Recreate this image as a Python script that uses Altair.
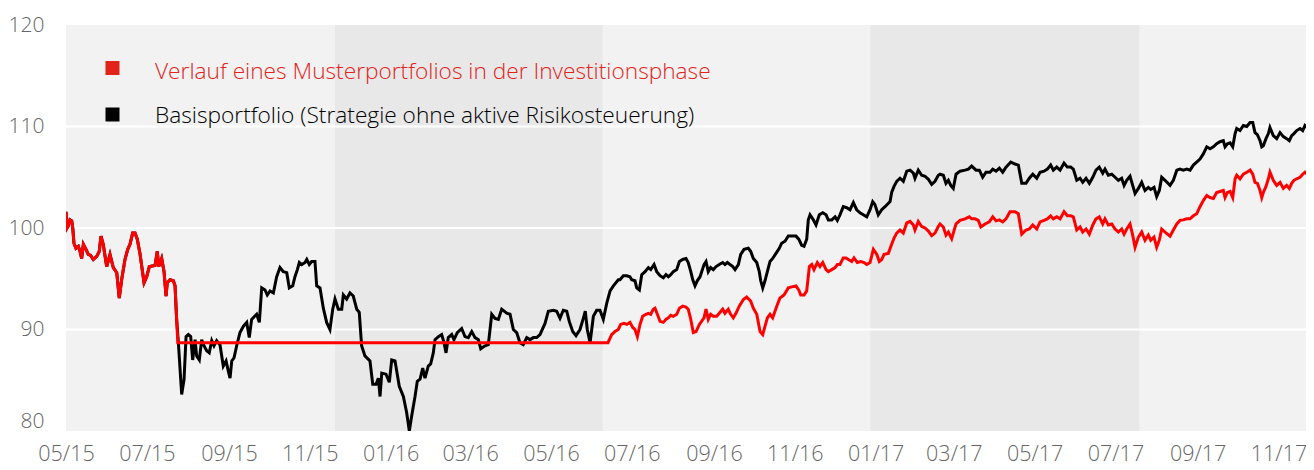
import altair as alt
import pandas as pd

START = "2015-05-01"
DAYS_SHOWN = 935.8  # visible span of the time axis in days

# (days since 2015-05-01, index value) – identical for both portfolios until the drop
common = [(0, 101.6), (0.8, 100.0), (1.7, 100.2), (3.0, 100.8), (4.3, 100.7), (5.1, 100.0), (6.0, 98.5), (7.5, 98.0),
          (9.3, 98.2), (10.6, 97.7), (11.8, 97.0), (13.1, 98.4), (15.1, 97.9), (16.8, 97.4), (18.6, 97.3), (20.6, 96.9),
          (23.2, 97.2), (25.1, 97.7), (26.4, 99.2), (28.1, 98.4), (30.7, 96.2), (33.2, 97.4), (35.7, 96.1), (38.3, 95.6),
          (40.2, 93.1), (42.0, 94.9), (44.5, 96.9), (46.6, 97.9), (48.3, 98.4), (50.3, 99.5), (52.1, 99.5), (53.8, 98.9),
          (55.8, 97.5), (58.9, 94.6), (60.9, 95.2), (62.9, 96.2), (67.2, 96.3), (68.9, 97.7), (70.0, 96.2), (72.2, 97.0),
          (74.0, 95.7), (75.5, 93.3), (76.4, 94.6), (78.5, 94.9), (81.0, 94.8), (82.3, 94.3), (83.5, 91.0)]

black_tail = [(84.8, 88.7), (87.3, 83.6), (89.1, 85.1), (90.6, 89.3), (92.3, 89.5), (94.1, 89.3), (95.6, 87.0), (97.4, 89.0),
    (98.6, 87.4), (100.6, 87.0), (102.4, 89.0), (104.1, 88.4), (106.2, 87.9), (108.1, 87.7), (110.0, 88.9), (111.7, 88.4),
    (113.7, 88.9), (116.2, 88.5), (118.7, 86.4), (120.8, 86.9), (122.5, 85.9), (123.8, 85.2), (125.1, 86.9), (126.8, 87.2),
    (128.8, 88.4), (131.3, 89.7), (133.8, 90.3), (136.4, 90.7), (138.3, 89.2), (140.1, 91.0), (143.9, 91.5), (145.9, 90.7),
    (147.7, 94.1), (150.2, 93.9), (151.9, 93.4), (154.0, 93.8), (156.5, 93.6), (159.0, 95.2), (161.5, 96.1), (164.0, 95.7),
    (166.6, 95.6), (168.5, 94.1), (171.1, 94.3), (172.8, 95.2), (174.6, 95.9), (176.1, 96.6), (177.9, 96.4), (180.4, 96.6),
    (181.7, 96.9), (183.6, 96.4), (185.4, 96.7), (187.9, 96.7), (189.2, 94.3), (191.7, 94.1), (194.2, 92.1), (196.7, 90.7),
    (199.2, 90.0), (201.3, 92.0), (203.0, 93.0), (205.5, 92.0), (208.1, 92.0), (209.3, 93.4), (211.8, 93.0), (214.3, 93.6),
    (216.8, 93.3), (219.4, 92.0), (221.3, 91.7), (223.1, 88.4), (225.6, 87.4), (229.4, 86.9), (231.5, 84.6), (234.0, 84.6),
    (235.7, 85.2), (237.0, 83.4), (238.3, 85.7), (241.5, 85.6), (244.0, 84.8), (245.8, 87.0), (248.3, 86.9), (251.5, 84.4),
    (254.6, 83.4), (257.1, 81.8), (259.1, 80.0), (260.9, 81.5), (263.4, 83.4), (265.1, 84.9), (267.2, 85.1), (269.2, 86.2),
    (270.9, 85.2), (273.4, 86.4), (275.2, 86.6), (277.2, 87.7), (278.5, 89.0), (281.0, 89.3), (283.5, 89.5), (285.3, 88.7),
    (286.8, 87.7), (288.5, 89.2), (291.1, 89.5), (292.8, 89.0), (295.3, 89.7), (298.6, 90.1), (301.1, 89.3), (303.6, 89.2),
    (306.2, 89.8), (308.7, 89.2), (311.2, 89.0), (313.0, 88.1), (316.2, 88.4), (318.7, 88.5), (321.3, 91.5), (323.8, 91.1),
    (326.3, 91.0), (328.8, 92.0), (332.6, 91.6), (335.1, 91.5), (337.6, 90.0), (340.1, 89.7), (342.6, 88.7), (345.1, 88.5),
    (347.7, 89.2), (350.2, 89.0), (352.7, 89.2), (355.2, 89.2), (357.7, 89.5), (361.5, 90.6), (364.0, 91.8), (367.8, 91.9),
    (370.3, 91.8), (372.8, 91.1), (375.3, 91.9), (377.9, 91.8), (379.8, 90.8), (382.4, 89.8), (384.9, 89.4), (387.9, 90.0),
    (390.4, 91.1), (391.9, 91.8), (393.4, 90.0), (395.5, 88.7), (398.0, 91.3), (400.5, 91.9), (403.0, 91.9), (405.5, 91.0),
    (408.1, 92.6), (410.6, 93.8), (413.1, 94.3), (416.8, 94.9), (418.1, 94.9), (420.6, 95.3), (423.2, 95.3), (425.6, 95.2),
    (426.9, 94.9), (429.4, 94.8), (430.7, 94.1), (432.7, 93.9), (434.5, 95.4), (437.0, 95.7), (439.5, 96.1), (441.3, 95.9),
    (443.8, 96.4), (445.8, 95.7), (448.3, 95.3), (450.8, 95.1), (452.8, 95.4), (454.6, 95.2), (456.4, 95.4), (458.3, 95.7),
    (460.9, 95.9), (462.9, 96.7), (465.4, 96.9), (467.9, 97.0), (469.6, 96.6), (471.5, 95.7), (473.0, 94.9), (474.7, 94.3),
    (476.4, 94.8), (478.5, 95.2), (481.5, 96.4), (483.0, 96.7), (484.7, 95.7), (486.5, 96.1), (488.5, 95.9), (490.6, 96.2),
    (493.0, 96.4), (495.6, 96.6), (497.3, 96.4), (499.1, 96.6), (501.1, 96.4), (503.2, 96.2), (504.9, 95.9), (507.4, 96.4),
    (509.2, 97.4), (511.7, 97.9), (514.9, 98.0), (516.7, 97.7), (518.7, 97.0), (521.3, 96.6), (523.2, 95.7), (524.3, 94.8),
    (525.8, 94.1), (527.5, 94.8), (529.3, 95.7), (531.3, 96.7), (533.3, 97.0), (535.8, 97.5), (538.3, 98.0), (540.1, 98.5),
    (542.6, 98.7), (545.1, 99.2), (547.7, 99.2), (550.9, 99.2), (553.0, 98.9), (555.2, 98.3), (557.0, 98.2), (559.0, 98.9),
    (560.2, 100.8), (561.5, 101.3), (564.0, 100.8), (566.0, 100.3), (568.5, 101.3), (571.1, 101.5), (573.6, 101.3),
    (575.3, 100.8), (577.9, 100.8), (580.4, 101.1), (582.1, 100.75), (584.1, 101.3), (586.6, 102.1), (589.2, 102.0),
    (591.7, 101.8), (594.2, 102.5), (596.7, 101.8), (599.2, 101.5), (601.7, 101.3), (604.3, 101.1), (606.8, 101.8),
    (608.8, 102.6), (610.5, 102.3), (613.0, 101.3), (615.6, 101.8), (618.1, 102.1), (621.9, 102.6), (623.1, 103.5),
    (624.9, 104.1), (626.9, 104.6), (629.4, 104.9), (631.9, 104.6), (634.5, 105.6), (637.0, 105.7), (639.5, 105.4),
    (640.7, 104.9), (643.2, 105.7), (645.8, 105.2), (648.3, 105.1), (650.8, 104.8), (653.3, 104.3), (655.8, 104.6),
    (658.3, 105.2), (659.6, 105.3), (662.1, 105.2), (664.1, 104.4), (665.9, 104.7), (667.7, 104.2), (669.6, 103.9),
    (671.7, 105.3), (674.7, 105.6), (678.5, 105.7), (681.0, 105.8), (683.5, 106.1), (686.8, 105.7), (689.3, 105.7),
    (691.8, 105.0), (694.3, 105.5), (697.3, 105.5), (699.4, 105.8), (701.9, 105.6), (704.4, 105.9), (706.9, 105.5),
    (709.4, 106.0), (713.0, 106.5), (716.2, 106.3), (718.7, 106.2), (721.3, 104.4), (724.5, 104.4), (727.0, 104.9),
    (729.6, 105.3), (732.6, 104.9), (735.1, 105.5), (738.1, 105.6), (740.6, 105.8), (743.1, 106.2), (745.1, 105.7),
    (747.7, 106.0), (750.2, 105.7), (753.2, 106.4), (755.7, 106.0), (758.2, 106.0), (760.2, 105.8), (762.8, 104.7),
    (765.3, 104.9), (767.3, 104.5), (769.8, 104.9), (772.3, 104.4), (774.9, 105.0), (777.3, 105.7), (779.8, 106.0),
    (782.4, 105.4), (784.1, 105.8), (786.6, 105.2), (789.2, 105.3), (791.7, 105.0), (794.2, 104.7), (796.7, 104.9),
    (798.5, 104.2), (800.5, 104.7), (803.0, 105.1), (805.0, 104.2), (806.8, 103.4), (809.3, 103.9), (811.8, 104.5),
    (814.3, 103.7), (816.8, 104.0), (818.6, 103.8), (821.1, 104.0), (823.1, 103.1), (825.1, 103.7), (826.9, 105.0),
    (829.4, 104.7), (833.2, 104.2), (835.7, 104.7), (838.3, 105.7), (840.7, 105.8), (843.2, 105.7), (845.8, 105.8),
    (848.3, 105.7), (850.8, 106.2), (853.3, 106.5), (855.8, 106.8), (858.3, 107.3), (860.9, 108.0), (863.4, 107.8),
    (865.9, 108.0), (868.4, 108.3), (870.9, 108.5), (873.4, 108.6), (874.7, 108.0), (876.5, 108.3), (878.5, 108.4),
    (880.5, 108.0), (882.3, 109.3), (883.5, 109.8), (886.0, 109.6), (888.5, 110.1), (891.1, 110.0), (893.6, 110.4),
    (895.6, 110.4), (897.3, 109.4), (899.1, 109.2), (901.1, 108.6), (902.4, 108.0), (903.6, 108.1), (905.6, 108.8),
    (907.4, 109.3), (908.6, 109.9), (911.1, 109.1), (913.7, 108.8), (916.2, 109.4), (918.7, 109.0), (921.2, 108.8),
    (923.2, 108.6), (925.0, 109.1), (926.7, 109.3), (928.8, 109.6), (931.3, 109.8), (933.3, 109.6), (935.0, 110.1),
    (937.5, 109.8), (939.4, 110.2), (941.9, 110.2)]

red_tail = [(84.4, 88.7), (409.0, 88.7), (411.8, 89.5), (414.3, 89.8), (416.8, 90.0), (418.6, 90.5), (421.1, 90.6),
    (423.2, 90.5), (425.6, 90.7), (427.7, 90.2), (429.4, 90.0), (431.2, 89.3), (433.2, 90.5), (435.2, 91.3), (437.7, 91.5),
    (439.5, 91.6), (441.3, 91.5), (443.2, 92.0), (444.5, 92.1), (446.3, 91.5), (448.3, 90.8), (450.8, 90.7), (452.8, 91.0),
    (454.6, 91.15), (456.4, 91.4), (458.3, 91.3), (460.9, 91.5), (462.9, 92.1), (465.4, 92.3), (467.9, 92.2), (469.6, 92.0),
    (471.5, 91.0), (473.4, 89.7), (475.5, 89.8), (478.0, 90.5), (481.5, 91.15), (483.0, 92.0), (484.7, 91.0), (486.5, 91.5),
    (488.5, 91.3), (491.1, 91.3), (493.0, 91.6), (495.6, 92.0), (497.3, 91.6), (499.8, 92.0), (501.6, 91.5), (503.6, 91.15),
    (505.6, 91.6), (508.1, 92.3), (511.2, 92.95), (513.7, 93.2), (516.7, 92.8), (518.7, 92.1), (521.3, 91.5), (523.8, 89.8),
    (525.8, 89.5), (527.5, 90.3), (529.3, 91.15), (531.3, 91.5), (533.3, 91.15), (536.4, 92.3), (538.8, 93.1), (541.9, 93.4),
    (545.1, 94.1), (547.7, 94.2), (550.9, 94.3), (553.0, 93.9), (554.5, 93.4), (557.0, 93.4), (559.0, 93.8), (561.0, 96.2),
    (562.8, 96.4), (564.5, 95.9), (567.0, 96.6), (569.0, 96.2), (571.1, 96.6), (573.6, 95.9), (575.3, 95.7), (577.9, 95.9),
    (580.4, 96.1), (582.1, 96.4), (584.1, 96.4), (586.6, 97.05), (588.7, 97.05), (590.4, 96.9), (593.0, 96.7), (594.7, 97.05),
    (597.2, 96.6), (599.8, 96.7), (602.3, 96.6), (604.3, 96.4), (606.8, 96.6), (609.3, 97.9), (611.9, 97.4), (613.8, 96.7),
    (615.6, 96.9), (617.4, 97.4), (620.6, 97.5), (623.1, 98.4), (624.9, 99.0), (626.9, 99.5), (629.4, 99.8), (631.9, 99.5),
    (634.5, 100.5), (637.0, 100.65), (639.5, 100.3), (640.7, 99.8), (643.2, 100.65), (645.8, 100.15), (648.3, 100.0),
    (650.8, 99.7), (653.3, 99.25), (655.8, 99.5), (658.3, 100.15), (659.6, 100.4), (662.1, 100.1), (664.1, 99.3),
    (665.9, 99.6), (668.4, 98.95), (671.7, 100.4), (674.7, 100.75), (678.5, 100.9), (681.7, 101.1), (683.5, 100.9),
    (686.0, 100.9), (688.5, 100.75), (690.4, 100.1), (693.6, 100.4), (696.8, 100.6), (699.4, 101.1), (701.9, 100.7),
    (704.4, 100.8), (706.9, 100.6), (709.4, 100.9), (712.4, 101.6), (716.2, 101.6), (718.7, 101.4), (721.3, 99.4),
    (724.5, 99.8), (727.0, 99.9), (729.6, 100.3), (732.6, 99.9), (735.1, 100.6), (738.1, 100.75), (740.6, 100.9),
    (743.1, 101.2), (745.1, 100.9), (747.7, 101.1), (750.2, 100.9), (753.2, 101.6), (755.7, 101.2), (758.2, 101.2),
    (760.2, 101.1), (762.8, 99.8), (765.3, 100.1), (767.3, 99.6), (769.8, 99.9), (772.3, 99.4), (774.9, 100.3),
    (777.3, 100.9), (779.8, 101.1), (782.4, 100.4), (784.1, 100.9), (786.6, 100.3), (789.2, 100.4), (791.7, 99.9),
    (794.2, 99.6), (796.7, 99.9), (798.5, 99.4), (800.5, 99.9), (803.0, 100.4), (805.0, 99.3), (806.8, 98.1),
    (809.3, 99.1), (811.8, 99.6), (814.3, 98.8), (816.8, 99.3), (818.6, 98.8), (821.1, 99.1), (823.1, 98.1), (825.1, 98.8),
    (826.9, 99.9), (829.4, 99.6), (833.2, 99.2), (835.7, 99.8), (838.3, 100.4), (840.7, 100.75), (843.2, 100.8),
    (845.8, 100.9), (848.3, 100.9), (850.8, 101.2), (853.3, 101.4), (855.8, 102.1), (858.3, 102.7), (860.9, 103.2),
    (863.4, 103.0), (865.9, 102.9), (868.4, 103.5), (870.9, 103.6), (873.4, 103.7), (874.7, 103.0), (876.5, 103.5),
    (878.5, 103.6), (880.5, 103.0), (882.3, 104.85), (883.5, 105.2), (886.0, 104.85), (888.5, 105.3), (891.1, 105.5),
    (893.6, 105.7), (895.6, 105.3), (897.3, 104.5), (899.1, 104.4), (901.1, 103.7), (902.4, 103.0), (903.6, 103.5),
    (905.6, 104.1), (907.4, 104.85), (908.6, 105.5), (911.1, 104.7), (913.7, 104.2), (916.2, 104.5), (918.7, 103.9),
    (921.2, 104.2), (923.2, 103.9), (925.0, 104.4), (926.7, 104.7), (928.8, 104.85), (931.3, 105.0), (933.3, 105.3),
    (935.0, 105.5), (937.5, 105.2), (939.4, 105.5), (941.9, 105.4)]

band_starts = ["2015-11-20", "2016-12-28"]
band_ends = ["2016-06-09", "2017-07-19"]
tick_dates = ["2015-05-01", "2015-07-01", "2015-09-01", "2015-11-01", "2016-01-01", "2016-03-01", "2016-05-01",
              "2016-07-01", "2016-09-01", "2016-11-01", "2017-01-01", "2017-03-01", "2017-05-01", "2017-07-01",
              "2017-09-01", "2017-11-01"]
y_ticks = [80, 90, 100, 110, 120]
grid_values = [90, 100, 110]
legend_labels = ["Verlauf eines Musterportfolios in der Investitionsphase",
                 "Basisportfolio (Strategie ohne aktive Risikosteuerung)"]
legend_colors = ["#e2231a", "#000000"]

FONT = "Open Sans"


def frame(pairs):
    df = pd.DataFrame(pairs, columns=["day", "value"])
    df["date"] = pd.Timestamp(START) + pd.to_timedelta(df["day"], unit="D")
    return df[["date", "value"]]


def dt(ts):
    ts = pd.Timestamp(ts)
    return alt.DateTime(year=ts.year, month=ts.month, date=ts.day, hours=ts.hour, minutes=ts.minute)


black_df = frame(common + black_tail)
red_df = frame(common + red_tail)
bands_df = pd.DataFrame({"start": pd.to_datetime(band_starts), "end": pd.to_datetime(band_ends)})
grid_df = pd.DataFrame({"v": grid_values})

x_scale = alt.Scale(domain=[dt(START), dt(pd.Timestamp(START) + pd.Timedelta(days=DAYS_SHOWN))])
y_scale = alt.Scale(domain=[80, 120], nice=False, zero=False)

x_axis = alt.Axis(values=[dt(t) for t in tick_dates], format="%m/%y", title=None, labelFlush=False,
                  labelFontSize=21.5, labelPadding=12, labelOverlap=False)
y_axis = alt.Axis(values=y_ticks, title=None, labelFontSize=21, labelPadding=22,
                  labelBaseline={"condition": {"test": "datum.value == 80", "value": "bottom"}, "value": "middle"})

bands = alt.Chart(bands_df).mark_rect(color="#e8e8e8").encode(
    x=alt.X("start:T", scale=x_scale, axis=x_axis),
    x2="end:T",
)

grid = alt.Chart(grid_df).mark_rule(color="white", strokeWidth=2).encode(
    y=alt.Y("v:Q", scale=y_scale, axis=y_axis)
)

black_line = alt.Chart(black_df).mark_line(color="#000000", strokeWidth=3, clip=True).encode(
    x=alt.X("date:T", scale=x_scale, axis=x_axis),
    y=alt.Y("value:Q", scale=y_scale, axis=y_axis),
)

red_line = alt.Chart(red_df).mark_line(color="#ff0000", strokeWidth=3, clip=True).encode(
    x=alt.X("date:T", scale=x_scale, axis=x_axis),
    y=alt.Y("value:Q", scale=y_scale, axis=y_axis),
)

legend_layers = []
square_y = [43, 89.5]
text_y = [46.6, 91.2]
for i, (lab, col) in enumerate(zip(legend_labels, legend_colors)):
    ldf = pd.DataFrame({"label": [lab]})
    legend_layers.append(
        alt.Chart(ldf).mark_square(size=196, color=col, opacity=1, filled=True).encode(
            x=alt.value(46.5), y=alt.value(square_y[i]))
    )
    legend_layers.append(
        alt.Chart(ldf).mark_text(align="left", baseline="middle", font=FONT, fontSize=22.7,
                                 fontWeight=300, color=col).encode(
            x=alt.value(89), y=alt.value(text_y[i]), text="label:N")
    )

chart = alt.layer(bands, grid, black_line, red_line, *legend_layers).properties(
    width=1240,
    height=406,
    padding={"left": 58, "top": 17, "right": 0, "bottom": 31},
    autosize=alt.AutoSizeParams(type="none"),
).configure_view(
    fill="#f2f2f2", stroke=None
).configure_axis(
    labelFont=FONT, labelColor="#666666", labelFontWeight=300, ticks=False, tickSize=0,
    domain=False, grid=False,
)

chart.save("out.html", embed_options={"renderer": "svg", "actions": False})
